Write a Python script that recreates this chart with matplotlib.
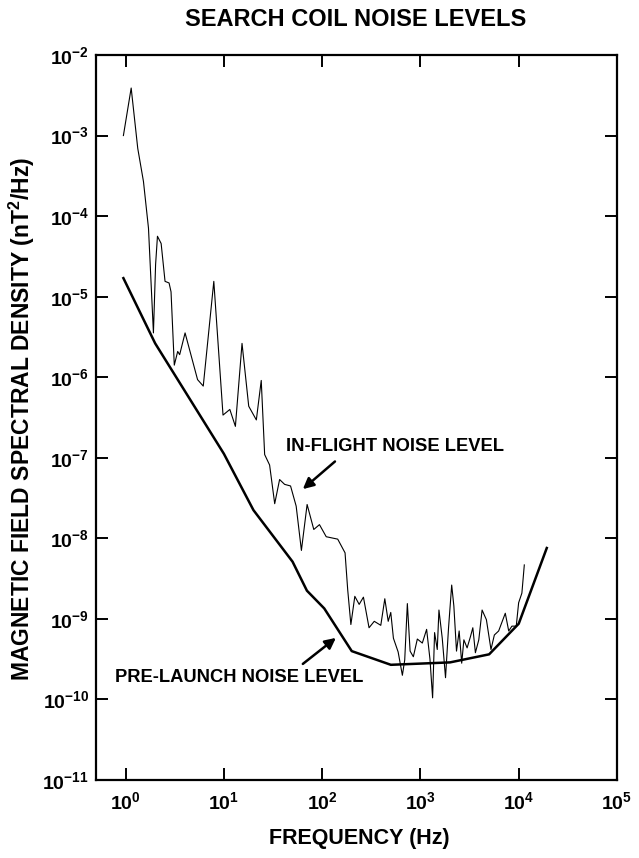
import numpy as np
import matplotlib
matplotlib.use("Agg")
import matplotlib.pyplot as plt
from matplotlib.ticker import FixedLocator, FuncFormatter, NullLocator

# Data: frequency in Hz, log10 of spectral density in nT^2/Hz
flight_freq = [0.95, 1.14, 1.33, 1.52, 1.71, 1.92, 2.02, 2.11, 2.3, 2.52, 2.77, 2.9,
               3.13, 3.39, 3.55, 4.03, 5.4, 6.17, 7.9, 9.8, 11.5, 13.1, 15.3, 17.9,
               21.4, 24, 26, 29.2, 32.9, 36.9, 41.5, 47.7, 54.4, 61.5, 70.3, 82.2,
               93.9, 110, 144, 171, 182, 196, 215, 238, 263, 300, 339, 395, 434, 470,
               499, 531, 593, 655, 692, 736, 785, 847, 930, 1045, 1156, 1250, 1330,
               1393, 1483, 1543, 1667, 1800, 1932, 2080, 2188, 2328, 2477, 2630, 2767,
               2985, 3228, 3412, 3624, 3924, 4240, 4690, 5220, 5650, 6250, 7300, 7910,
               8530, 9440, 9980, 10770, 11400]
flight_log = [-3.0, -2.41, -3.16, -3.57, -4.15, -5.45, -4.6, -4.25, -4.34, -4.81, -4.83, -4.94,
              -5.85, -5.68, -5.72, -5.45, -6.03, -6.11, -4.81, -6.47, -6.4, -6.61, -5.58, -6.36,
              -6.53, -6.04, -6.96, -7.09, -7.57, -7.27, -7.33, -7.35, -7.6, -8.15, -7.58, -7.89,
              -7.83, -7.98, -8.01, -8.18, -8.64, -9.07, -8.72, -8.82, -8.73, -9.11, -9.03, -9.08, -8.75, -9.03,
              -8.92, -9.24, -9.41, -9.7, -9.51, -8.81, -9.40, -9.47, -9.25, -9.30, -9.13, -9.5, -9.98,
              -9.17, -9.38, -8.89, -9.24, -9.73, -9.11, -8.58, -8.84, -9.40, -9.15, -9.55, -9.26,
              -9.36, -9.22, -9.11, -9.42, -9.26, -8.89, -9.01, -9.38, -9.20, -9.15, -8.93, -9.15,
              -9.09, -9.09, -8.80, -8.68, -8.33]

prelaunch_freq = [0.95, 2.0, 10, 20, 50, 70, 105, 200, 500, 2000, 5000, 10000, 19300]
prelaunch_log = [-4.77, -5.58, -6.95, -7.65, -8.29, -8.65, -8.87, -9.40, -9.57, -9.54, -9.44, -9.06, -8.12]

plt.rcParams['font.family'] = ['Liberation Sans', 'DejaVu Sans']
plt.rcParams['font.weight'] = 'bold'
plt.rcParams['mathtext.fontset'] = 'custom'
plt.rcParams['mathtext.rm'] = 'Liberation Sans:bold'
plt.rcParams['mathtext.it'] = 'Liberation Sans:bold'
plt.rcParams['mathtext.bf'] = 'Liberation Sans:bold'
plt.rcParams['mathtext.default'] = 'rm'

fig = plt.figure(figsize=(6.39, 8.58), dpi=100)
ax = fig.add_axes([96 / 639, 78 / 858, 521 / 639, 725 / 858])

ax.loglog(flight_freq, 10.0 ** np.array(flight_log), color='black', lw=0.8)
ax.loglog(prelaunch_freq, 10.0 ** np.array(prelaunch_log), color='black', lw=1.8)

ax.set_xlim(0.5, 1e5)
ax.set_ylim(1e-11, 1e-2)

ax.xaxis.set_major_locator(FixedLocator([10.0 ** k for k in range(0, 6)]))
ax.yaxis.set_major_locator(FixedLocator([10.0 ** k for k in range(-11, -1)]))
ax.xaxis.set_minor_locator(NullLocator())
ax.yaxis.set_minor_locator(NullLocator())
fmt = FuncFormatter(lambda v, p: r'$10^{%d}$' % int(round(np.log10(v))))
ax.xaxis.set_major_formatter(fmt)
ax.yaxis.set_major_formatter(fmt)
ax.tick_params(which='major', direction='in', length=8.5, width=1.4,
               top=True, right=True, labelsize=14)
ax.tick_params(axis='x', pad=8)
ax.tick_params(axis='y', pad=5)
for s in ax.spines.values():
    s.set_linewidth(1.6)

fig.text(0.556, 0.977, 'SEARCH COIL NOISE LEVELS', ha='center', va='center', fontsize=17)
fig.text(0.562, 0.023, 'FREQUENCY (Hz)', ha='center', va='center', fontsize=15.5)
fig.text(0.034, 0.512, 'MAGNETIC FIELD SPECTRAL DENSITY (nT$^2$/Hz)', rotation=90,
         ha='center', va='center', fontsize=16.5)

# labels with arrows
arrow = dict(arrowstyle='-|>', color='black', lw=1.8, mutation_scale=16, shrinkA=0, shrinkB=0)
ax.text(557, 10 ** -6.86, 'IN-FLIGHT NOISE LEVEL', ha='center', va='center', fontsize=13.2)
ax.annotate('', xy=(63.6, 10 ** -7.389), xytext=(135, 10 ** -7.046), arrowprops=arrow)
ax.text(14.2, 10 ** -9.726, 'PRE-LAUNCH NOISE LEVEL', ha='center', va='center', fontsize=13.2)
ax.annotate('', xy=(138, 10 ** -9.236), xytext=(63.6, 10 ** -9.559), arrowprops=arrow)

fig.savefig('out.png', dpi=100)
